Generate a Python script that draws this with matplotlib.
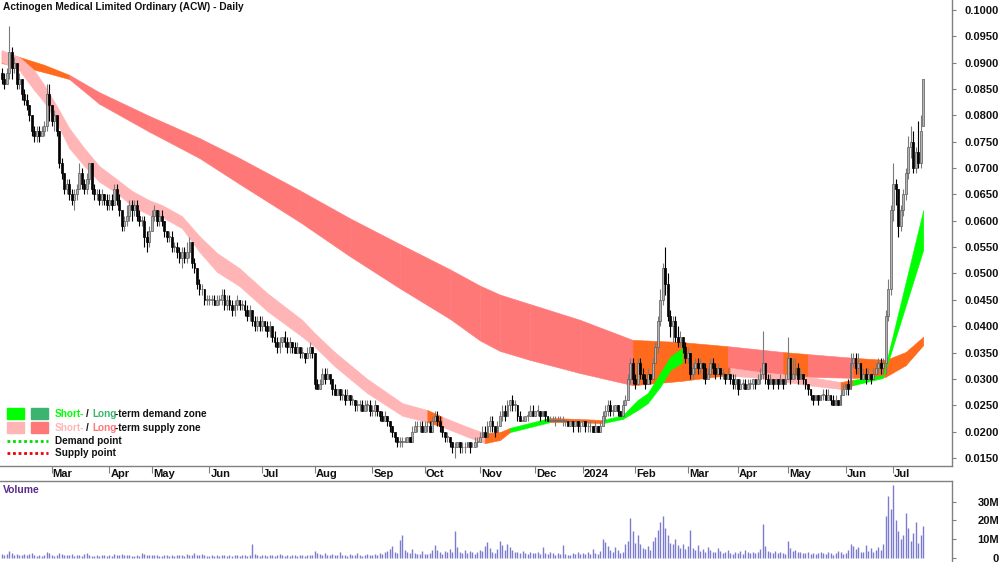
import matplotlib
matplotlib.use("Agg")
import matplotlib.pyplot as plt
import numpy as np
import pandas as pd
from matplotlib.lines import Line2D
from matplotlib.patches import Rectangle

plt.rcParams['font.family'] = ['Liberation Sans', 'DejaVu Sans']
plt.rcParams['font.weight'] = 'bold'

W, H = 1000, 562

# ASX trading days shown on the chart
holidays = ['2023-04-07', '2023-04-10', '2023-04-25', '2023-06-12', '2023-12-25', '2023-12-26',
            '2024-01-01', '2024-01-26', '2024-03-29', '2024-04-01', '2024-04-25', '2024-06-10']
dates = pd.bdate_range('2023-02-01', '2024-07-17')
dates = dates[~dates.isin(pd.to_datetime(holidays))]

# daily prices in tenths of a cent (0.001 $), one line per month
opens = [
    88, 87, 86, 88, 92, 89, 90, 86, 87, 84, 83, 82, 80, 77, 76, 77, 76, 77, 78, 84,
    82, 79, 80, 77, 71, 69, 66, 67, 65, 64, 65, 66, 69, 67, 66, 68, 71, 66, 65, 65, 64, 65, 64,
    63, 64, 63, 66, 64, 62, 59, 60, 61, 63, 62, 63, 61, 60, 60, 57, 56,
    58, 61, 62, 60, 61, 60, 58, 57, 57, 55, 55, 54, 53, 54, 53, 54, 56, 52, 51, 48, 47, 47, 45,
    45, 45, 45, 44, 45, 45, 46, 44, 45, 44, 43, 44, 45, 44, 44, 43, 42, 43, 41, 40, 41,
    40, 41, 40, 39, 40, 38, 37, 36, 37, 38, 37, 36, 37, 36, 35, 36, 35, 35, 34, 35, 36,
    35, 29, 28, 29, 31, 30, 31, 30, 28, 27, 28, 27, 27, 26, 27, 26, 26, 25, 25, 25, 24, 25, 25,
    24, 24, 25, 24, 23, 22, 23, 22, 21, 20, 19, 18, 18, 18, 18, 19, 18, 20, 21, 21, 21,
    20, 21, 21, 20, 22, 23, 22, 21, 20, 19, 19, 18, 17, 17, 18, 17, 17, 17, 18, 17, 17, 18,
    18, 19, 20, 19, 21, 22, 21, 20, 21, 23, 24, 23, 25, 26, 25, 25, 23, 22, 22, 23, 23, 24,
    23, 24, 24, 23, 24, 23, 22, 22, 22, 22, 22, 22, 22, 22, 21, 22, 21, 22, 21,
    21, 22, 21, 21, 21, 20, 21, 20, 21, 23, 24, 25, 24, 24, 25, 24, 23, 25, 26, 30, 33,
    30, 29, 33, 31, 30, 29, 31, 30, 33, 36, 41, 45, 51, 48, 42, 40, 41, 38, 37, 38, 36,
    34, 35, 31, 32, 33, 32, 33, 32, 30, 31, 33, 32, 31, 32, 31, 31, 30, 31, 30, 29,
    30, 28, 29, 29, 28, 29, 29, 30, 29, 30, 31, 33, 30, 29, 30, 29, 30, 29, 30, 29,
    30, 34, 30, 31, 32, 30, 31, 30, 29, 28, 27, 26, 27, 26, 27, 27, 26, 27, 26, 25, 26, 25, 27,
    28, 29, 28, 33, 34, 32, 33, 30, 31, 30, 31, 30, 31, 32, 33, 32, 33, 42, 47,
    62, 67, 66, 59, 62, 65, 69, 74, 75, 70, 73, 71, 78,
]
highs = [
    89, 88, 89, 97, 93, 91, 90, 88, 87, 85, 84, 82, 80, 78, 78, 78, 78, 79, 86, 86,
    82, 81, 80, 77, 72, 69, 68, 68, 66, 66, 67, 71, 70, 68, 69, 71, 71, 67, 66, 66, 66, 65, 65,
    65, 65, 67, 67, 65, 62, 61, 63, 64, 64, 64, 64, 62, 61, 61, 58, 59,
    62, 63, 62, 62, 62, 60, 58, 58, 58, 56, 56, 55, 55, 55, 56, 57, 56, 53, 51, 49, 48, 47, 46,
    46, 46, 46, 46, 46, 47, 47, 46, 46, 45, 45, 46, 45, 45, 45, 44, 44, 43, 42, 42, 42,
    42, 41, 41, 41, 40, 39, 38, 38, 38, 39, 38, 38, 37, 37, 37, 36, 36, 35, 36, 37, 36,
    35, 30, 30, 32, 32, 32, 31, 30, 29, 28, 28, 28, 28, 28, 27, 27, 26, 26, 26, 26, 26, 26, 26,
    25, 26, 25, 24, 24, 24, 23, 22, 21, 20, 19, 19, 19, 19, 19, 19, 21, 22, 22, 22, 22,
    22, 22, 22, 23, 24, 24, 23, 21, 20, 20, 19, 18, 18, 18, 18, 18, 18, 18, 18, 18, 19, 19,
    20, 21, 21, 22, 23, 23, 21, 22, 24, 25, 25, 26, 26, 27, 26, 25, 24, 23, 23, 24, 25, 25,
    24, 25, 24, 24, 24, 23, 23, 23, 23, 23, 23, 23, 22, 22, 22, 22, 22, 22, 22,
    22, 22, 22, 22, 21, 22, 21, 22, 24, 25, 26, 26, 25, 25, 25, 24, 26, 27, 31, 34, 34,
    31, 34, 34, 32, 31, 32, 31, 34, 37, 42, 47, 52, 55, 50, 43, 42, 42, 40, 39, 38, 37,
    36, 35, 33, 34, 34, 34, 33, 33, 32, 34, 34, 33, 33, 32, 32, 31, 32, 31, 31, 31,
    30, 30, 30, 30, 30, 30, 30, 30, 31, 32, 39, 33, 31, 31, 30, 30, 30, 31, 30, 31,
    38, 34, 34, 34, 33, 32, 31, 30, 29, 28, 27, 27, 27, 27, 28, 28, 28, 27, 27, 27, 26, 28, 29,
    29, 30, 35, 35, 35, 35, 33, 32, 32, 32, 31, 32, 33, 34, 34, 34, 43, 49, 63,
    71, 68, 66, 63, 66, 70, 76, 78, 77, 74, 79, 80, 87,
]
lows = [
    86, 85, 86, 87, 87, 88, 85, 85, 83, 82, 81, 79, 76, 75, 75, 75, 76, 76, 77, 79,
    78, 77, 76, 70, 68, 65, 65, 64, 63, 62, 64, 66, 66, 65, 65, 67, 65, 64, 64, 63, 63, 63, 62,
    62, 62, 63, 63, 61, 58, 58, 59, 60, 60, 61, 60, 59, 59, 55, 54, 55,
    58, 60, 59, 59, 59, 57, 56, 56, 54, 54, 53, 52, 51, 52, 52, 53, 51, 50, 47, 46, 46, 44, 44,
    44, 44, 44, 44, 44, 44, 43, 43, 43, 42, 42, 43, 43, 43, 42, 41, 41, 40, 39, 39, 39,
    39, 39, 38, 38, 37, 36, 35, 35, 36, 36, 35, 35, 35, 35, 35, 34, 34, 33, 34, 34, 34,
    28, 28, 28, 29, 29, 30, 29, 27, 27, 27, 26, 26, 25, 26, 25, 25, 24, 24, 24, 24, 24, 24, 23,
    23, 23, 23, 22, 22, 22, 21, 20, 19, 18, 17, 17, 17, 18, 18, 18, 18, 20, 20, 20, 20,
    20, 20, 20, 20, 22, 21, 20, 19, 18, 18, 17, 16, 15, 17, 16, 16, 16, 17, 16, 17, 17, 17,
    18, 19, 19, 19, 20, 20, 19, 20, 21, 22, 22, 23, 24, 24, 24, 22, 22, 22, 22, 22, 23, 23,
    23, 23, 22, 23, 22, 22, 22, 22, 21, 22, 22, 21, 21, 21, 21, 20, 21, 20, 20,
    21, 20, 20, 20, 20, 20, 20, 20, 21, 22, 23, 23, 23, 24, 23, 23, 23, 25, 26, 29, 29,
    28, 29, 30, 29, 28, 29, 29, 30, 33, 35, 40, 44, 46, 41, 38, 37, 37, 36, 36, 35, 33,
    33, 30, 30, 31, 31, 31, 30, 29, 30, 31, 31, 30, 31, 30, 30, 29, 30, 29, 28, 28,
    27, 28, 28, 28, 28, 28, 28, 28, 29, 29, 30, 29, 28, 29, 28, 29, 28, 29, 28, 29,
    30, 29, 30, 30, 29, 30, 29, 28, 27, 26, 25, 26, 25, 26, 26, 26, 26, 25, 25, 25, 25, 25, 27,
    27, 27, 28, 32, 31, 31, 30, 30, 29, 30, 29, 30, 31, 31, 31, 31, 31, 41, 46,
    60, 63, 57, 58, 61, 64, 68, 72, 69, 69, 70, 70, 78,
]
closes = [
    87, 86, 88, 92, 89, 90, 86, 87, 84, 83, 82, 80, 77, 76, 77, 76, 77, 78, 84, 82,
    79, 80, 77, 71, 69, 66, 67, 65, 64, 65, 66, 69, 67, 66, 68, 71, 66, 65, 65, 64, 65, 64, 63,
    64, 63, 66, 64, 62, 59, 60, 61, 63, 62, 63, 61, 60, 60, 57, 56, 58,
    61, 62, 60, 61, 60, 58, 57, 57, 55, 55, 54, 53, 54, 53, 54, 56, 52, 51, 48, 47, 47, 45, 45,
    45, 45, 44, 45, 45, 46, 44, 45, 44, 43, 44, 45, 44, 44, 43, 42, 43, 41, 40, 41, 40,
    41, 40, 39, 40, 38, 37, 36, 37, 38, 37, 36, 37, 36, 35, 36, 35, 35, 34, 35, 36, 35,
    29, 28, 29, 31, 30, 31, 30, 28, 27, 28, 27, 27, 26, 27, 26, 26, 25, 25, 25, 24, 25, 25, 24,
    24, 25, 24, 23, 22, 23, 22, 21, 20, 19, 18, 18, 18, 18, 19, 18, 20, 21, 21, 21, 20,
    21, 21, 20, 22, 23, 22, 21, 20, 19, 19, 18, 17, 17, 18, 17, 17, 17, 18, 17, 17, 18, 18,
    19, 20, 19, 21, 22, 21, 20, 21, 23, 24, 23, 25, 26, 25, 25, 23, 22, 22, 23, 23, 24, 23,
    24, 24, 23, 24, 23, 22, 22, 22, 22, 22, 22, 22, 22, 21, 22, 21, 22, 21, 21,
    22, 21, 21, 21, 20, 21, 20, 21, 23, 24, 25, 24, 24, 25, 24, 23, 25, 26, 30, 33, 30,
    29, 33, 31, 30, 29, 31, 30, 33, 36, 41, 45, 51, 48, 42, 40, 41, 38, 37, 38, 36, 34,
    35, 31, 32, 33, 32, 33, 32, 30, 31, 33, 32, 31, 32, 31, 31, 30, 31, 30, 29, 30,
    28, 29, 29, 28, 29, 29, 30, 29, 30, 31, 33, 30, 29, 30, 29, 30, 29, 30, 29, 30,
    34, 30, 31, 32, 30, 31, 30, 29, 28, 27, 26, 27, 26, 27, 27, 26, 27, 26, 25, 26, 25, 27, 28,
    29, 28, 33, 34, 32, 33, 30, 31, 30, 31, 30, 31, 32, 33, 32, 33, 42, 47, 62,
    67, 66, 59, 62, 65, 69, 74, 75, 70, 73, 71, 77, 87,
]

# daily volume, millions of shares
volumes = [
    2.1, 1.5, 1.8, 3.5, 2.4, 1.6, 1.9, 1.2, 1.4, 2.0, 1.1, 1.7, 2.2, 1.3, 1.0, 1.2, 0.9, 1.1, 3.0, 2.2,
    1.5, 1.0, 1.3, 2.5, 2.0, 1.6, 1.1, 1.4, 1.8, 1.0, 1.6, 1.2, 0.9, 2.1, 2.4, 1.3, 0.8, 1.0, 1.2, 0.9, 1.1, 1.3, 1.0,
    1.2, 0.9, 1.8, 1.1, 1.4, 2.0, 1.2, 1.1, 1.5, 0.8, 1.0, 1.3, 0.9, 2.2, 1.7, 1.2, 1.4,
    1.6, 1.3, 1.1, 0.9, 1.0, 1.4, 1.2, 1.0, 1.5, 0.8, 1.1, 1.3, 1.2, 1.0, 1.9, 1.4, 1.2, 2.3, 1.6, 1.1, 1.8, 1.3, 1.0,
    0.9, 1.2, 1.0, 1.3, 0.8, 1.1, 1.4, 1.0, 1.2, 0.9, 1.1, 1.3, 1.0, 1.5, 1.2, 0.9, 1.6, 7.0, 1.8, 1.2, 1.0,
    1.1, 1.4, 0.9, 1.3, 1.6, 1.0, 1.2, 1.8, 1.1, 0.9, 1.4, 1.0, 1.3, 1.2, 0.8, 1.1, 1.5, 1.0, 1.2, 1.6, 1.3,
    3.5, 2.4, 1.8, 1.5, 2.6, 1.3, 1.2, 1.9, 1.4, 1.1, 2.8, 1.6, 1.2, 1.0, 1.7, 1.3, 1.5, 2.2, 1.2, 1.0, 1.4, 1.8, 1.3,
    1.6, 2.0, 1.3, 2.4, 1.8, 2.9, 3.6, 4.5, 6.0, 3.2, 2.5, 9.5, 12.0, 4.0, 3.1, 2.2, 4.5, 2.6, 1.8, 2.0, 3.3,
    2.1, 1.8, 2.5, 3.8, 6.5, 4.2, 2.9, 2.0, 3.5, 2.7, 4.8, 3.1, 14.0, 5.5, 3.0, 2.4, 4.0, 2.2, 3.6, 2.8, 2.0, 3.0,
    4.0, 3.5, 6.0, 8.5, 5.0, 3.2, 2.6, 4.4, 9.0, 6.5, 3.8, 7.0, 5.5, 4.0, 3.0, 2.8, 2.2, 3.5, 2.5, 2.0, 3.0, 2.4,
    2.6, 3.2, 2.0, 5.5, 2.4, 1.8, 3.0, 2.2, 1.5, 2.5, 1.8, 6.5, 2.0, 1.6, 1.2, 2.4, 1.8, 2.8, 2.0,
    2.4, 1.8, 3.0, 2.0, 4.5, 2.6, 2.0, 3.5, 10.0, 8.5, 6.0, 4.0, 3.2, 5.5, 3.8, 2.4, 3.0, 7.0, 9.0, 21.0, 14.0,
    8.0, 12.0, 7.5, 5.0, 4.5, 6.0, 3.8, 9.0, 11.0, 15.0, 19.0, 22.0, 16.0, 12.0, 8.0, 7.0, 10.0, 6.5, 5.0, 7.5, 4.5,
    6.0, 15.0, 5.0, 4.0, 6.5, 3.5, 4.5, 3.0, 5.5, 4.0, 3.2, 2.8, 5.0, 3.5, 2.5, 3.0, 4.2, 2.6, 2.0, 3.0,
    2.5, 3.5, 2.0, 4.0, 2.8, 2.2, 3.0, 2.5, 3.2, 4.5, 18.0, 6.0, 3.5, 2.8, 2.4, 3.6, 2.2, 3.0, 2.6, 2.0,
    9.0, 5.0, 3.5, 4.0, 2.8, 3.0, 2.2, 2.5, 3.2, 2.0, 2.6, 1.8, 2.4, 3.0, 2.2, 1.9, 2.8, 2.4, 1.6, 2.2, 3.5, 2.8, 2.0,
    2.6, 4.0, 7.5, 6.0, 4.5, 5.5, 3.2, 2.8, 6.5, 3.6, 5.0, 3.0, 4.2, 5.5, 3.8, 7.0, 22.0, 33.0, 26.0,
    39.0, 20.0, 14.0, 10.0, 12.0, 24.0, 16.0, 9.0, 13.0, 19.0, 8.0, 12.0, 17.0,
]

# long-term zone: bar index, upper / lower edge (0.001 $), zone type of following segment
long_idx = [0, 7, 17, 27, 39, 59, 79, 95, 119, 139, 159, 179, 191, 199, 211, 231, 252, 271, 290, 312, 322,
            340, 353, 361, 368]
long_top = [92.0, 91.1, 89.6, 87.7, 84.4, 79.9, 75.7, 71.9, 65.8, 60.5, 55.6, 50.8, 47.7, 46.0, 44.2, 41.2,
            37.4, 37.0, 36.2, 35.1, 34.7, 34.0, 33.6, 35.1, 38.0]
long_bot = [89.9, 89.4, 88.2, 86.9, 82.2, 76.9, 71.9, 67.0, 59.8, 53.3, 47.2, 41.4, 37.3, 35.3, 33.6, 31.1,
            28.8, 29.6, 30.7, 30.6, 30.4, 30.2, 30.4, 32.6, 36.4]
long_zone = "NNN SSSSSSSSSSSSS NNSNSNNN".replace(" ", "")

# short-term zone
short_idx = [0, 7, 13, 17, 22, 27, 33, 39, 46, 52, 59, 64, 72, 79, 86, 95, 106, 120, 125, 133, 146, 160, 170,
             176, 186, 193, 199, 203, 219, 230, 240, 248, 254, 258, 263, 267, 272, 279, 291, 303, 322, 335,
             340, 352, 368]
short_top = [92.4, 91.1, 88.6, 85.8, 81.8, 77.6, 73.8, 70.4, 67.9, 65.7, 63.9, 63.0, 60.9, 57.1, 53.9, 51.0,
             46.3, 41.2, 38.7, 35.1, 30.0, 25.4, 24.1, 22.8, 20.9, 19.7, 19.9, 20.7, 22.6, 22.4, 22.2, 23.1,
             26.0, 27.3, 31.1, 34.2, 35.9, 33.6, 32.1, 31.3, 30.4, 29.4, 29.8, 30.7, 62.0]
short_bot = [90.1, 88.6, 84.8, 82.5, 78.6, 73.8, 70.4, 67.4, 65.3, 62.8, 61.1, 60.7, 58.6, 54.1, 50.3, 47.6,
             42.9, 38.0, 36.1, 32.4, 27.3, 23.0, 21.8, 20.9, 19.0, 17.8, 18.4, 19.9, 21.8, 21.8, 21.6, 22.4,
             24.1, 25.4, 28.5, 31.7, 33.2, 31.3, 30.6, 30.2, 28.8, 28.1, 28.8, 30.2, 54.5]
short_zone = "SSSSSSSSSS SSSSSSSSSS SS N SS NN D NN DDDDDD NN SSS N DD".replace(" ", "")

price_ticks = np.arange(0.015, 0.1001, 0.005)
vol_ticks = [0, 10e6, 20e6, 30e6]
vol_labels = ['0', '10M', '20M', '30M']

ORANGE = '#ff6a1c'
short_cols = {'S': '#ffb5b5', 'D': '#00ff00', 'N': ORANGE}
long_cols = {'S': '#ff7878', 'D': '#3cb371', 'N': ORANGE}
TXT = '#111111'

n = len(dates)
for name, arr in [('opens', opens), ('highs', highs), ('lows', lows), ('closes', closes), ('volumes', volumes)]:
    if len(arr) != n:
        raise ValueError(f"{name} has {len(arr)} values, expected {n}")

x = np.arange(n)
o = np.array(opens) / 1000
h = np.array(highs) / 1000
l = np.array(lows) / 1000
c = np.array(closes) / 1000
v = np.array(volumes) * 1e6

fig = plt.figure(figsize=(W / 100, H / 100), dpi=100)


def fbox(x0, y0, x1, y1):
    return [x0 / W, 1 - y1 / H, (x1 - x0) / W, (y1 - y0) / H]


ax = fig.add_axes(fbox(0, 0, 952, 466))
axv = fig.add_axes(fbox(0, 481, 952, 562))


def draw_zone(idx, top, bot, zone, cols):
    idx = np.array(idx)
    top = np.array(top) / 1000
    bot = np.array(bot) / 1000
    for k in range(len(idx) - 1):
        col = cols[zone[k]]
        ax.fill_between(idx[k:k + 2], top[k:k + 2], bot[k:k + 2], color=col, ec=col, lw=0.4, zorder=1)


draw_zone(long_idx, long_top, long_bot, long_zone, long_cols)
draw_zone(short_idx, short_top, short_bot, short_zone, short_cols)

# candles: grey = up day, black = down day
up = c >= o
ax.vlines(x[up], l[up], h[up], color='#7a7a7a', lw=0.8, zorder=3)
ax.vlines(x[~up], l[~up], h[~up], color='black', lw=0.8, zorder=3)
ax.bar(x[up], np.maximum(c - o, 0.00015)[up], bottom=o[up], width=0.72,
       color='#b4b4b4', edgecolor='#5a5a5a', lw=0.5, zorder=4)
ax.bar(x[~up], (o - c)[~up], bottom=c[~up], width=0.72,
       color='black', edgecolor='black', lw=0.5, zorder=4)

xlim = (-0.64, 379.5)
ax.set_xlim(*xlim)
ax.set_ylim(0.01347, 0.10190)

# month ticks
month_start = [i for i in range(1, n) if dates[i].month != dates[i - 1].month]
ax.set_xticks(month_start)
ax.set_xticklabels([])
ax.tick_params(axis='x', direction='out', length=5, width=0.8, color='#808080')
for i in month_start:
    lab = str(dates[i].year) if dates[i].month == 1 else dates[i].strftime('%b')
    ax.annotate(lab, xy=(i, 0), xycoords=ax.get_xaxis_transform(), xytext=(1, -8),
                textcoords='offset pixels', ha='left', va='center', fontsize=8, color=TXT)

ax.yaxis.tick_right()
ax.set_yticks(price_ticks)
ax.set_yticklabels([f"{t:.4f}" for t in price_ticks])
ax.tick_params(axis='y', direction='out', length=3, width=0.8, color='#808080',
               labelsize=8, labelcolor=TXT, pad=31)
for t in ax.yaxis.get_major_ticks():
    t.label2.set_horizontalalignment('right')

for s in ['top', 'left']:
    ax.spines[s].set_visible(False)
for s in ['bottom', 'right']:
    ax.spines[s].set_color('#808080')
    ax.spines[s].set_linewidth(1.0)

# volume panel
axv.vlines(x, 0, v, color='#7b7bd0', lw=1.0)
axv.set_xlim(*xlim)
axv.set_ylim(-2.4e6, 41.0e6)
axv.set_xticks([])
axv.yaxis.tick_right()
axv.set_yticks(vol_ticks)
axv.set_yticklabels(vol_labels)
axv.tick_params(axis='y', direction='out', length=3, width=0.8, color='#808080',
                labelsize=8, labelcolor=TXT, pad=31)
for t in axv.yaxis.get_major_ticks():
    t.label2.set_horizontalalignment('right')
for s in ['bottom', 'left']:
    axv.spines[s].set_visible(False)
for s in ['top', 'right']:
    axv.spines[s].set_color('#808080')
    axv.spines[s].set_linewidth(1.0)

fig.text(3 / W, 1 - 7 / H, "Actinogen Medical Limited Ordinary (ACW) - Daily", fontsize=7.3,
         color=TXT, ha='left', va='center')
fig.text(3 / W, 1 - 490 / H, "Volume", fontsize=7.5, color='#5b2a8c', ha='left', va='center')


# legend
def ftext(xp, yp, s, col, size=7.2):
    fig.text(xp / W, 1 - yp / H, s, color=col, fontsize=size, ha='left', va='center')


def square(x0, y0, col):
    fig.patches.append(Rectangle((x0 / W, 1 - (y0 + 11) / H), 17 / W, 11 / H, color=col,
                                 transform=fig.transFigure))


square(7, 408, short_cols['D'])
square(31, 408, long_cols['D'])
square(7, 422, short_cols['S'])
square(31, 422, long_cols['S'])
for yy, kind, word in [(414, 'D', "-term demand zone"), (428, 'S', "-term supply zone")]:
    ftext(55, yy, "Short-", short_cols[kind])
    ftext(86, yy, "/", TXT)
    ftext(92, yy, "Long", long_cols[kind])
    ftext(115, yy, word, TXT)
for yy, col, lab in [(441, '#00dd00', "Demand point"), (453, '#ee0000', "Supply point")]:
    fig.lines.append(Line2D([7 / W, 48 / W], [1 - yy / H] * 2, transform=fig.transFigure,
                            color=col, lw=2, linestyle=(0, (1, 1))))
    ftext(55, yy, lab, TXT)

fig.savefig("out.png", dpi=100)
